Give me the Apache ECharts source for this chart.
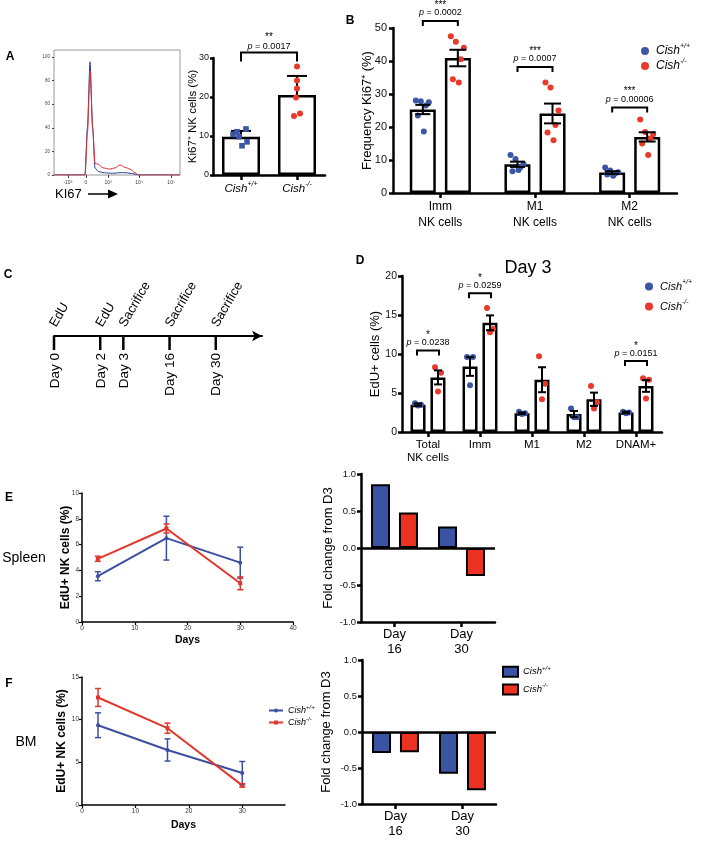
<!DOCTYPE html>
<html><head><meta charset="utf-8">
<script src="https://cdn.jsdelivr.net/npm/echarts@6/dist/echarts.min.js"></script>
<style>html,body{margin:0;padding:0;background:#fff}#c{width:709px;height:866px}</style>
</head><body><div id="c"></div>
<script>
// ---------- DATA ----------
// Panel A histogram (channel position on logicle scale, % of max)
const ki67HistX  = [0, 150, 246, 265, 286, 307, 325, 352, 390, 444, 484, 524, 563, 603, 643, 669, 800, 1000];
const ki67HistWT = [0, 0, 0, 40, 96, 40, 6, 3, 2, 1.5, 1.5, 2, 2, 1.5, 0.8, 0, 0, 0];
const ki67HistKO = [0, 0, 0, 35, 88, 40, 10, 9, 6, 5, 6, 8.5, 6.5, 5, 2, 0, 0, 0];
const histTickPos = [110, 254, 430, 675, 930];
const histTickLabels = ['-10³', '0', '10³', '10⁴', '10⁵'];
const histYTicks = [0, 20, 40, 60, 80, 100];
// Panel A bars
const aGroups = ['+/+', '-/-'];
const aMeans = [9.8, 20.5];
const aSem = [1.5, 4.9];
const aPtsWT = [11.8, 11.1, 10.4, 9.8, 8.5, 7.5];
const aPtsKO = [27.8, 24.2, 22.2, 19.9, 15.8, 15.1];
const aP = ['0.0017'], aStars = ['**'], aBracketY = [31.4];
// Panel B
const bCats = ['Imm\nNK cells', 'M1\nNK cells', 'M2\nNK cells'];
const bMeanWT = [25.3, 8.7, 6.2];
const bSemWT = [1.4, 0.8, 0.4];
const bMeanKO = [40.9, 24.1, 17.0];
const bSemKO = [2.5, 3.0, 1.4];
const bPtsWT = [[28.0, 27.8, 27.5, 26.5, 23.5, 18.6], [11.5, 10.3, 8.8, 7.8, 6.6, 7.0], [7.7, 6.8, 6.3, 5.9, 5.6, 5.2]];
const bPtsKO = [[47.5, 45.8, 44.0, 40.5, 34.5, 33.5], [33.5, 32.0, 25.0, 20.6, 18.3, 16.0], [22.3, 18.5, 17.8, 16.5, 15.0, 11.5]];
const bP = ['0.0002', '0.0007', '0.00006'], bStars = ['***', '***', '***'], bBracketY = [52.1, 38.2, 25.9];
// Panel C timeline
const timelineDays = [0, 2, 3, 16, 30];
const timelineEvents = ['EdU', 'EdU', 'Sacrifice', 'Sacrifice', 'Sacrifice'];
const timelineSlots = [0, 2, 3, 5, 7];
// Panel D
const dCats = ['Total\nNK cells', 'Imm', 'M1', 'M2', 'DNAM+'];
const dMeanWT = [3.5, 8.4, 2.4, 2.3, 2.5];
const dSemWT = [0.15, 1.2, 0.1, 0.4, 0.1];
const dMeanKO = [7.0, 14.0, 6.7, 4.2, 5.9];
const dSemKO = [0.9, 0.95, 1.6, 0.85, 0.75];
const dPtsWT = [[3.7, 3.5, 3.4], [9.6, 9.6, 6.0], [2.6, 2.4, 2.3], [3.0, 1.9, 1.9], [2.6, 2.5, 2.4]];
const dPtsKO = [[8.3, 7.6, 5.2], [15.9, 13.2, 12.8], [9.7, 6.2, 4.2], [5.9, 3.8, 3.0], [6.9, 6.7, 4.3]];
const dSigCats = [0, 1, 4], dP = ['0.0238', '0.0259', '0.0151'], dStars = ['*', '*', '*'], dBracketY = [10.45, 17.8, 9.1];
// Panels E/F
const days = [3, 16, 30];
const eWT = [3.55, 6.5, 4.6], eWTSem = [0.35, 1.7, 1.2];
const eKO = [4.9, 7.25, 3.0], eKOSem = [0.2, 0.35, 0.5];
const fWT = [9.35, 6.45, 3.75], fWTSem = [1.45, 1.3, 1.35];
const fKO = [12.6, 9.0, 2.3], fKOSem = [1.05, 0.6, 0.2];
const foldCats = ['Day\n16', 'Day\n30'];
const eFoldWT = [0.86, 0.29], eFoldKO = [0.48, -0.38];
const fFoldWT = [-0.29, -0.58], fFoldKO = [-0.28, -0.81];
const fLineXTicks = [0, 10, 20, 30];

// ---------- STYLE ----------
const FONT = '"Liberation Sans", Arial, Helvetica, sans-serif';
const BLUE = '#3a56a5', RED = '#e8392b';
const LBLUE = '#3c4fa0', LRED = '#e0382c';
const FBLUE = '#3b53a3', FRED = '#ec3323';
const jitA_WT = [5, -4, -8, -2, 6, 1], jitA_KO = [0, 0, 0, -1, 3, -3];
const jitB = [-7, -2, 6, 3, -5, 1], jitD = [-3, 3, 0];

function cishRich(size) {
  return {
    i: {fontStyle: 'italic', fontSize: size, fontFamily: FONT, color: '#000', lineHeight: size + 4},
    s: {fontStyle: 'italic', fontSize: Math.round(size * 0.62), fontFamily: FONT, color: '#000', verticalAlign: 'top'}
  };
}
function cishText(g) { return '{i|Cish}{s|' + g + '}'; }
const AX = (w) => ({show: true, onZero: false, lineStyle: {color: '#000', width: w}});
const TK = (len, w, extra) => Object.assign({show: true, inside: false, length: len, lineStyle: {color: '#000', width: w}}, extra || {});
const LB = (size, extra) => Object.assign({show: true, fontSize: size, fontFamily: FONT, color: '#111'}, extra || {});
const NOSPLIT = {show: false};
const nameStyle = (size, bold) => ({fontSize: size, fontFamily: FONT, color: '#000', fontWeight: bold ? 'bold' : 'normal'});

function errRender(off, cap, lw, color, upperOnly) {
  return function (params, api) {
    const c = api.value(0), m = api.value(1), s = api.value(2);
    const top = api.coord([c, m + s]);
    const bot = api.coord([c, upperOnly ? m : m - s]);
    const x = top[0] + off;
    const ch = [
      {type: 'line', shape: {x1: x, y1: top[1], x2: x, y2: bot[1]}, style: {stroke: color, lineWidth: lw}},
      {type: 'line', shape: {x1: x - cap, y1: top[1], x2: x + cap, y2: top[1]}, style: {stroke: color, lineWidth: lw}}
    ];
    if (!upperOnly) ch.push({type: 'line', shape: {x1: x - cap, y1: bot[1], x2: x + cap, y2: bot[1]}, style: {stroke: color, lineWidth: lw}});
    return {type: 'group', children: ch};
  };
}
function dotsRender(off, jit, shape, r, color) {
  return function (params, api) {
    const p = api.coord([api.value(0), api.value(1)]);
    const k = api.value(2);
    const x = p[0] + off + jit[k % jit.length];
    if (shape === 'rect') return {type: 'rect', shape: {x: x - r, y: p[1] - r, width: 2 * r, height: 2 * r}, style: {fill: color}};
    return {type: 'circle', shape: {cx: x, cy: p[1], r: r}, style: {fill: color}};
  };
}
function bracketRender(cfg) {
  return function (params, api) {
    const i = api.value(3);
    const pa = api.coord([api.value(0), api.value(2)]);
    const pb = api.coord([api.value(1), api.value(2)]);
    const y = pa[1], x1 = pa[0] + cfg.offA, x2 = pb[0] + cfg.offB, xm = (x1 + x2) / 2;
    return {type: 'group', children: [
      {type: 'polyline', shape: {points: [[x1, y + cfg.leg], [x1, y], [x2, y], [x2, y + cfg.leg]]}, style: {stroke: '#000', lineWidth: 2, fill: null}},
      {type: 'text', x: xm, y: y - cfg.pGap, style: {text: '{i|p}{n| = ' + cfg.p[i] + '}', align: 'center', verticalAlign: 'bottom',
        rich: {i: {fontStyle: 'italic', fontSize: 9, fontFamily: FONT, fill: '#000'}, n: {fontSize: 9, fontFamily: FONT, fill: '#000'}}}},
      {type: 'text', x: xm, y: y - cfg.sGap, style: {text: cfg.stars[i], align: 'center', verticalAlign: 'middle', fontSize: 10, fontFamily: FONT, fill: '#000'}}
    ]};
  };
}
function timelineRender(params, api) {
  const idx = api.value(2);
  const p = api.coord([api.value(0), 0]);
  const x = p[0], y = p[1];
  return {type: 'group', children: [
    {type: 'line', shape: {x1: x, y1: y, x2: x, y2: y + 14}, style: {stroke: '#000', lineWidth: 2.5}},
    {type: 'text', x: x - 1, y: y - 10, rotation: Math.PI / 3, style: {text: timelineEvents[idx], align: 'left', verticalAlign: 'middle', fontSize: 13, fontFamily: FONT, fill: '#000'}},
    {type: 'text', x: x + 1, y: y + 17, rotation: Math.PI / 2, style: {text: 'Day ' + timelineDays[idx], align: 'right', verticalAlign: 'middle', fontSize: 13.5, fontFamily: FONT, fill: '#000'}}
  ]};
}
function T(text, x, y, size, extra) {
  return {type: 'text', x: x, y: y, silent: true, style: Object.assign({text: text, fontSize: size, fontFamily: FONT, fill: '#000', align: 'center', verticalAlign: 'middle'}, extra || {})};
}
const flat = (arrs) => arrs.flatMap((vals, c) => vals.map((v, k) => [c, v, k]));

const series = [];
// A histogram
series.push({name: 'hWT', type: 'line', xAxisIndex: 0, yAxisIndex: 0, data: ki67HistX.map((x, i) => [x, ki67HistWT[i]]), symbol: 'none', smooth: 0.25, smoothMonotone: 'x', lineStyle: {color: '#2c3f99', width: 1}, z: 3});
series.push({name: 'hKO', type: 'line', xAxisIndex: 0, yAxisIndex: 0, data: ki67HistX.map((x, i) => [x, ki67HistKO[i]]), symbol: 'none', smooth: 0.25, smoothMonotone: 'x', lineStyle: {color: '#e03030', width: 1}, z: 3});
// A bars
series.push({name: 'aBar', type: 'bar', xAxisIndex: 1, yAxisIndex: 1, data: aMeans, barWidth: 38, itemStyle: {color: '#fff', borderColor: '#000', borderWidth: 2.5}, z: 2});
series.push({name: 'aErr', type: 'custom', xAxisIndex: 1, yAxisIndex: 1, data: aMeans.map((m, i) => [i, m, aSem[i]]), renderItem: errRender(0, 10, 2, '#000', true), z: 3});
series.push({name: 'A_WT', type: 'custom', xAxisIndex: 1, yAxisIndex: 1, data: aPtsWT.map((v, k) => [0, v, k]), renderItem: dotsRender(0, jitA_WT, 'rect', 2.8, BLUE), itemStyle: {color: BLUE}, z: 4});
series.push({name: 'A_KO', type: 'custom', xAxisIndex: 1, yAxisIndex: 1, data: aPtsKO.map((v, k) => [1, v, k]), renderItem: dotsRender(0, jitA_KO, 'circle', 3, RED), itemStyle: {color: RED}, z: 4});
series.push({name: 'aBr', type: 'custom', xAxisIndex: 1, yAxisIndex: 1, data: aBracketY.map((y, i) => [0, 1, y, i]), renderItem: bracketRender({offA: 0, offB: 0, leg: 9, pGap: 2, sGap: 15, p: aP, stars: aStars}), z: 5});
// B
series.push({name: 'bWT', type: 'bar', xAxisIndex: 2, yAxisIndex: 2, data: bMeanWT, barWidth: 26, barGap: '35%', itemStyle: {color: '#fff', borderColor: '#000', borderWidth: 2.5}, z: 2});
series.push({name: 'bKO', type: 'bar', xAxisIndex: 2, yAxisIndex: 2, data: bMeanKO, barWidth: 26, barGap: '35%', itemStyle: {color: '#fff', borderColor: '#000', borderWidth: 2.5}, z: 2});
series.push({name: 'B_WT', type: 'custom', xAxisIndex: 2, yAxisIndex: 2, data: flat(bPtsWT), renderItem: dotsRender(-17.5, jitB, 'circle', 3, BLUE), itemStyle: {color: BLUE}, z: 3});
series.push({name: 'B_KO', type: 'custom', xAxisIndex: 2, yAxisIndex: 2, data: flat(bPtsKO), renderItem: dotsRender(17.5, jitB, 'circle', 3, RED), itemStyle: {color: RED}, z: 3});
series.push({name: 'bErrWT', type: 'custom', xAxisIndex: 2, yAxisIndex: 2, data: bMeanWT.map((m, i) => [i, m, bSemWT[i]]), renderItem: errRender(-17.5, 7.5, 2, '#000'), z: 4});
series.push({name: 'bErrKO', type: 'custom', xAxisIndex: 2, yAxisIndex: 2, data: bMeanKO.map((m, i) => [i, m, bSemKO[i]]), renderItem: errRender(17.5, 8.5, 2, '#000'), z: 4});
series.push({name: 'bBr', type: 'custom', xAxisIndex: 2, yAxisIndex: 2, data: bBracketY.map((y, i) => [i, i, y, i]), renderItem: bracketRender({offA: -17.5, offB: 17.5, leg: 5, pGap: 4, sGap: 16, p: bP, stars: bStars}), z: 5});
// C
series.push({name: 'timeline', type: 'custom', xAxisIndex: 3, yAxisIndex: 3, data: timelineSlots.map((s, i) => [s, 0, i]), renderItem: timelineRender, z: 3});
// D
series.push({name: 'dWT', type: 'bar', xAxisIndex: 4, yAxisIndex: 4, data: dMeanWT, barWidth: 15, barGap: '33%', itemStyle: {color: '#fff', borderColor: '#000', borderWidth: 2.5}, z: 2});
series.push({name: 'dKO', type: 'bar', xAxisIndex: 4, yAxisIndex: 4, data: dMeanKO, barWidth: 15, barGap: '33%', itemStyle: {color: '#fff', borderColor: '#000', borderWidth: 2.5}, z: 2});
series.push({name: 'D_WT', type: 'custom', xAxisIndex: 4, yAxisIndex: 4, data: flat(dPtsWT), renderItem: dotsRender(-10, jitD, 'circle', 3, BLUE), itemStyle: {color: BLUE}, z: 3});
series.push({name: 'D_KO', type: 'custom', xAxisIndex: 4, yAxisIndex: 4, data: flat(dPtsKO), renderItem: dotsRender(10, jitD, 'circle', 3, RED), itemStyle: {color: RED}, z: 3});
series.push({name: 'dErrWT', type: 'custom', xAxisIndex: 4, yAxisIndex: 4, data: dMeanWT.map((m, i) => [i, m, dSemWT[i]]), renderItem: errRender(-10, 4, 2, '#000'), z: 4});
series.push({name: 'dErrKO', type: 'custom', xAxisIndex: 4, yAxisIndex: 4, data: dMeanKO.map((m, i) => [i, m, dSemKO[i]]), renderItem: errRender(10, 4, 2, '#000'), z: 4});
series.push({name: 'dBr', type: 'custom', xAxisIndex: 4, yAxisIndex: 4, data: dSigCats.map((c, k) => [c, c, dBracketY[k], k]), renderItem: bracketRender({offA: -11, offB: 11, leg: 5, pGap: 3, sGap: 15, p: dP, stars: dStars}), z: 5});
// E & F lines
function lineSet(prefix, xi, wt, wtS, ko, koS) {
  series.push({name: prefix + '_WT', type: 'line', xAxisIndex: xi, yAxisIndex: xi, data: days.map((d, i) => [d, wt[i]]), symbol: 'circle', symbolSize: 4, lineStyle: {color: LBLUE, width: 2}, itemStyle: {color: LBLUE}, z: 3});
  series.push({name: prefix + '_KO', type: 'line', xAxisIndex: xi, yAxisIndex: xi, data: days.map((d, i) => [d, ko[i]]), symbol: 'rect', symbolSize: 4, lineStyle: {color: LRED, width: 2}, itemStyle: {color: LRED}, z: 3});
  series.push({name: prefix + 'errWT', type: 'custom', xAxisIndex: xi, yAxisIndex: xi, data: days.map((d, i) => [d, wt[i], wtS[i]]), renderItem: errRender(0, 3, 1.5, LBLUE), z: 4});
  series.push({name: prefix + 'errKO', type: 'custom', xAxisIndex: xi, yAxisIndex: xi, data: days.map((d, i) => [d, ko[i], koS[i]]), renderItem: errRender(0, 3, 1.5, LRED), z: 4});
}
lineSet('EL', 5, eWT, eWTSem, eKO, eKOSem);
lineSet('FL', 7, fWT, fWTSem, fKO, fKOSem);
function foldSet(prefix, xi, wt, ko) {
  const zero = {silent: true, symbol: 'none', label: {show: false}, lineStyle: {color: '#000', width: 2.5, type: 'solid'}, data: [{yAxis: 0}]};
  series.push({name: prefix + '_WT', type: 'bar', xAxisIndex: xi, yAxisIndex: xi, data: wt, barWidth: 19, barGap: '47%', itemStyle: {color: FBLUE, borderColor: '#000', borderWidth: 2}, markLine: zero, z: 2});
  series.push({name: prefix + '_KO', type: 'bar', xAxisIndex: xi, yAxisIndex: xi, data: ko, barWidth: 19, barGap: '47%', itemStyle: {color: FRED, borderColor: '#000', borderWidth: 2}, z: 2});
}
foldSet('EF', 6, eFoldWT, eFoldKO);
foldSet('FF', 8, fFoldWT, fFoldKO);

const catAxis = (gi, data, size, lh, margin) => ({gridIndex: gi, type: 'category', data: data, axisLine: AX(2.5), axisTick: TK(5, 2.5, {alignWithLabel: true, interval: 0}), axisLabel: LB(size, {lineHeight: lh, margin: margin, color: '#000', interval: 0, hideOverlap: false}), splitLine: NOSPLIT});
const gridBase = {containLabel: false, outerBoundsMode: 'none'};
const G = (l, t, w, h, extra) => Object.assign({left: l, top: t, width: w, height: h}, gridBase, extra || {});
const legendBase = {orient: 'vertical', padding: 0, selectedMode: false, formatter: (n) => cishText(n.endsWith('WT') ? '+/+' : '-/-')};

const option = {
  animation: false,
  backgroundColor: '#fff',
  textStyle: {fontFamily: FONT},
  grid: [
    G(54, 50, 126, 125, {show: true, borderColor: '#999', borderWidth: 1}),
    G(213, 58, 112, 117),
    G(393, 28, 284, 165),
    G(54, 300, 208, 36),
    G(402, 276, 260, 156),
    G(82, 493, 211, 129),
    G(361, 474, 134, 148),
    G(82, 677, 203, 128),
    G(362, 660, 134, 144)
  ],
  xAxis: [
    {gridIndex: 0, type: 'value', min: 0, max: 1000, axisLine: {show: false}, axisTick: TK(3, 1, {customValues: histTickPos, lineStyle: {color: '#444', width: 1}}),
      axisLabel: LB(5, {customValues: histTickPos, formatter: (v) => histTickLabels[histTickPos.indexOf(v)], margin: 5, color: '#444'}), splitLine: NOSPLIT},
    {gridIndex: 1, type: 'category', data: aGroups, axisLine: AX(2.5), axisTick: TK(5, 2.5, {alignWithLabel: true, interval: 0}), axisLabel: {formatter: (v) => cishText(v), rich: cishRich(11.5), margin: 6, interval: 0, hideOverlap: false}, splitLine: NOSPLIT},
    catAxis(2, bCats, 12, 16, 6),
    {gridIndex: 3, type: 'value', min: 0, max: 9, axisLine: {show: true, onZero: false, symbol: ['none', 'arrow'], symbolSize: [8, 10], lineStyle: {color: '#000', width: 2}}, axisTick: {show: false}, axisLabel: {show: false}, splitLine: NOSPLIT},
    catAxis(4, dCats, 11.5, 13, 6),
    {gridIndex: 5, type: 'value', min: 0, max: 40, interval: 10, axisLine: AX(1.5), axisTick: TK(3, 1.2), axisLabel: LB(6.5, {margin: 3, color: '#333'}), splitLine: NOSPLIT,
      name: 'Days', nameLocation: 'middle', nameGap: 13, nameMoveOverlap: false, nameTextStyle: nameStyle(10.5, true)},
    catAxis(6, foldCats, 13, 15, 5),
    {gridIndex: 7, type: 'value', min: 0, max: 38, axisLine: AX(1.5), axisTick: TK(3, 1.2, {customValues: fLineXTicks}), axisLabel: LB(6.5, {customValues: fLineXTicks, margin: 3, color: '#333'}), splitLine: NOSPLIT,
      name: 'Days', nameLocation: 'middle', nameGap: 15, nameMoveOverlap: false, nameTextStyle: nameStyle(10.5, true)},
    catAxis(8, foldCats, 13, 15, 5)
  ],
  yAxis: [
    {gridIndex: 0, type: 'value', min: 0, max: 106, axisLine: {show: false}, axisTick: TK(2, 1, {customValues: histYTicks, lineStyle: {color: '#444', width: 1}}),
      axisLabel: LB(4.5, {customValues: histYTicks, margin: 4, color: '#444'}), splitLine: NOSPLIT},
    {gridIndex: 1, type: 'value', min: 0, max: 30, interval: 10, axisLine: AX(2.5), axisTick: TK(3, 2.5), axisLabel: LB(9, {margin: 4}), splitLine: NOSPLIT,
      name: 'Ki67⁺ NK cells (%)', nameLocation: 'middle', nameGap: 14, nameMoveOverlap: false, nameTextStyle: nameStyle(11.5)},
    {gridIndex: 2, type: 'value', min: 0, max: 50, interval: 10, axisLine: AX(2.5), axisTick: TK(4, 2.5), axisLabel: LB(11, {margin: 6}), splitLine: NOSPLIT,
      name: 'Frequency Ki67⁺ (%)', nameLocation: 'middle', nameGap: 19, nameMoveOverlap: false, nameTextStyle: nameStyle(13)},
    {gridIndex: 3, type: 'value', min: 0, max: 1, show: false},
    {gridIndex: 4, type: 'value', min: 0, max: 20, interval: 5, axisLine: AX(2.5), axisTick: TK(4, 2.5), axisLabel: LB(10.5, {margin: 5}), splitLine: NOSPLIT,
      name: 'EdU+ cells (%)', nameLocation: 'middle', nameGap: 20, nameMoveOverlap: false, nameTextStyle: nameStyle(13)},
    {gridIndex: 5, type: 'value', min: 0, max: 10, interval: 2, axisLine: AX(1.5), axisTick: TK(3, 1.2), axisLabel: LB(6.5, {margin: 3, color: '#333'}), splitLine: NOSPLIT,
      name: 'EdU+ NK cells (%)', nameLocation: 'middle', nameGap: 10, nameMoveOverlap: false, nameTextStyle: nameStyle(12, true)},
    {gridIndex: 6, type: 'value', min: -1, max: 1, interval: 0.5, axisLine: AX(2.5), axisTick: TK(4, 2.5), axisLabel: LB(9.5, {margin: 5, formatter: (v) => v.toFixed(1)}), splitLine: NOSPLIT,
      name: 'Fold change from D3', nameLocation: 'middle', nameGap: 26, nameMoveOverlap: false, nameTextStyle: nameStyle(13)},
    {gridIndex: 7, type: 'value', min: 0, max: 15, interval: 5, axisLine: AX(1.5), axisTick: TK(3, 1.2), axisLabel: LB(6.5, {margin: 3, color: '#333'}), splitLine: NOSPLIT,
      name: 'EdU+ NK cells (%)', nameLocation: 'middle', nameGap: 14, nameMoveOverlap: false, nameTextStyle: nameStyle(12, true)},
    {gridIndex: 8, type: 'value', min: -1, max: 1, interval: 0.5, axisLine: AX(2.5), axisTick: TK(4, 2.5), axisLabel: LB(9.5, {margin: 5, formatter: (v) => v.toFixed(1)}), splitLine: NOSPLIT,
      name: 'Fold change from D3', nameLocation: 'middle', nameGap: 29, nameMoveOverlap: false, nameTextStyle: nameStyle(13)}
  ],
  legend: [
    Object.assign({}, legendBase, {left: 641, top: 43, itemWidth: 12, itemHeight: 8, itemGap: 1, icon: 'circle', data: ['B_WT', 'B_KO'], textStyle: {rich: cishRich(12)}}),
    Object.assign({}, legendBase, {left: 645, top: 279, itemWidth: 12, itemHeight: 8, itemGap: 7, icon: 'circle', data: ['D_WT', 'D_KO'], textStyle: {rich: cishRich(11)}}),
    Object.assign({}, legendBase, {left: 268, top: 704, itemWidth: 14, itemHeight: 5, itemGap: 1, data: ['FL_WT', 'FL_KO'], textStyle: {rich: cishRich(9)}}),
    Object.assign({}, legendBase, {left: 502, top: 665, itemWidth: 15, itemHeight: 10, itemGap: 5, icon: 'rect', data: ['FF_WT', 'FF_KO'], textStyle: {rich: cishRich(9.5)}})
  ],
  graphic: [
    T('A', 10, 57, 12, {fontWeight: 'bold'}),
    T('B', 350, 21, 12, {fontWeight: 'bold'}),
    T('C', 8, 275, 12, {fontWeight: 'bold'}),
    T('D', 360, 261, 12, {fontWeight: 'bold'}),
    T('E', 9, 498, 12, {fontWeight: 'bold'}),
    T('F', 9, 684, 12, {fontWeight: 'bold'}),
    T('Day 3', 528, 268, 18),
    T('Spleen', 24, 558, 14),
    T('BM', 26, 742, 14),
    T('KI67', 55, 194, 13, {align: 'left'}),
    {type: 'polyline', silent: true, shape: {points: [[88, 194], [110, 194]]}, style: {stroke: '#000', lineWidth: 1.5}},
    {type: 'polygon', silent: true, shape: {points: [[108, 189.5], [118, 194], [108, 198.5]]}, style: {fill: '#000'}}
  ],
  series: series
};
const chart = echarts.init(document.getElementById('c'), null, {renderer: 'canvas'});
chart.setOption(option);
</script></body></html>
